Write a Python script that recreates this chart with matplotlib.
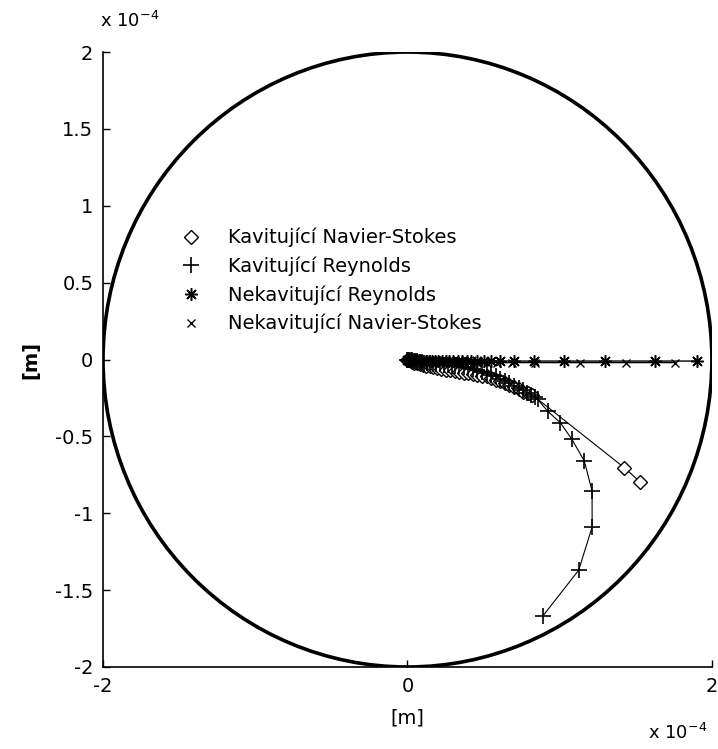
import numpy as np
import matplotlib.pyplot as plt
from matplotlib.patches import Circle

plt.rcParams['font.family'] = ['DejaVu Sans']

# Poloměr ložiska (v jednotkách 1e-4 m)
r_loziska = 2.0

# Kavitující Navier-Stokes (kosočtverce)
kav_ns_x = [0.0, 0.005, 0.01, 0.02, 0.03, 0.045, 0.06, 0.08, 0.10, 0.12,
            0.145, 0.17, 0.195, 0.22, 0.25, 0.28, 0.31, 0.34, 0.37, 0.40,
            0.43, 0.46, 0.49, 0.52, 0.55, 0.58, 0.61, 0.64, 0.67, 0.70,
            0.73, 0.76, 0.79, 0.82, 1.425, 1.53]
kav_ns_y = [0.0, -0.003, -0.006, -0.01, -0.015, -0.02, -0.025, -0.03, -0.035, -0.04,
            -0.045, -0.05, -0.055, -0.06, -0.065, -0.07, -0.075, -0.08, -0.085, -0.09,
            -0.095, -0.10, -0.105, -0.11, -0.12, -0.13, -0.14, -0.15, -0.165, -0.18,
            -0.195, -0.21, -0.22, -0.23, -0.704, -0.798]

# Kavitující Reynolds (plus)
kav_re_x = [0.0, 0.005, 0.01, 0.02, 0.03, 0.04, 0.05, 0.065, 0.08, 0.095,
            0.11, 0.13, 0.15, 0.17, 0.19, 0.215, 0.24, 0.265, 0.29, 0.315,
            0.34, 0.37, 0.40, 0.43, 0.46, 0.49, 0.52, 0.55, 0.58, 0.61,
            0.64, 0.67, 0.70, 0.73, 0.76, 0.785, 0.81, 0.835, 0.856,
            0.921, 1.005, 1.081, 1.162, 1.213, 1.213, 1.125, 0.889]
kav_re_y = [0.0, 0.0, 0.0, -0.003, -0.005, -0.007, -0.01, -0.012, -0.015, -0.017,
            -0.02, -0.022, -0.025, -0.027, -0.03, -0.032, -0.035, -0.037, -0.04, -0.042,
            -0.045, -0.05, -0.055, -0.062, -0.07, -0.08, -0.09, -0.10, -0.11, -0.125,
            -0.14, -0.155, -0.17, -0.185, -0.20, -0.215, -0.23, -0.245, -0.26,
            -0.336, -0.412, -0.520, -0.661, -0.856, -1.090, -1.370, -1.669]

# Nekavitující Reynolds (hvězdičky)
nekav_re_x = [0.0, 0.005, 0.01, 0.015, 0.02, 0.03, 0.04, 0.05, 0.06, 0.075,
              0.09, 0.105, 0.12, 0.14, 0.16, 0.18, 0.20, 0.225, 0.25, 0.275,
              0.30, 0.33, 0.36, 0.39, 0.42, 0.46, 0.50, 0.55, 0.61, 0.703,
              0.829, 1.031, 1.300, 1.628, 1.900]
nekav_re_y = [0.0, 0.0, 0.0, 0.0, 0.0, -0.005, -0.005, -0.005, -0.005, -0.005,
              -0.01, -0.01, -0.01, -0.01, -0.01, -0.01, -0.01, -0.01, -0.01, -0.01,
              -0.01, -0.01, -0.01, -0.01, -0.01, -0.01, -0.01, -0.01, -0.01, -0.01,
              -0.01, -0.01, -0.01, -0.01, -0.01]

# Nekavitující Navier-Stokes (křížky)
nekav_ns_x = [0.0, 0.005, 0.01, 0.02, 0.03, 0.04, 0.055, 0.07, 0.085, 0.10,
              0.12, 0.14, 0.165, 0.19, 0.22, 0.25, 0.285, 0.32, 0.36, 0.41,
              0.46, 0.52, 0.59, 0.69, 0.84, 1.136, 1.436, 1.758]
nekav_ns_y = [0.0, 0.0, 0.0, -0.005, -0.005, -0.005, -0.01, -0.01, -0.01, -0.01,
              -0.01, -0.01, -0.015, -0.015, -0.015, -0.015, -0.015, -0.015, -0.015, -0.015,
              -0.02, -0.02, -0.02, -0.02, -0.02, -0.02, -0.02, -0.02]

y_ticks = [-2, -1.5, -1, -0.5, 0, 0.5, 1, 1.5, 2]
y_labels = ['-2', '-1.5', '-1', '-0.5', '0', '0.5', '1', '1.5', '2']
x_ticks = [-2, 0, 2]
x_labels = ['-2', '0', '2']

fs = 14

fig = plt.figure(figsize=(7.18, 7.49), dpi=100)
ax = fig.add_axes([0.1435, 0.1095, 0.848, 0.821])

ax.add_patch(Circle((0, 0), r_loziska, fill=False, ec='black', lw=2.6))

ax.plot(kav_ns_x, kav_ns_y, color='black', lw=0.8, marker='D', ms=7,
        mfc='white', mec='black', mew=1.0, label='Kavitující Navier-Stokes')
ax.plot(kav_re_x, kav_re_y, color='black', lw=0.8, marker='+', ms=11,
        mew=1.2, label='Kavitující Reynolds')
ax.plot(nekav_re_x, nekav_re_y, color='black', lw=1.0, marker=(8, 2, 0), ms=9,
        mew=1.1, label='Nekavitující Reynolds')
ax.plot(nekav_ns_x, nekav_ns_y, color='black', lw=1.0, marker='x', ms=6,
        mew=1.0, label='Nekavitující Navier-Stokes')

ax.set_xlim(-2, 2)
ax.set_ylim(-2, 2)
ax.set_xticks(x_ticks)
ax.set_xticklabels(x_labels)
ax.set_yticks(y_ticks)
ax.set_yticklabels(y_labels)
ax.tick_params(direction='in', length=5, width=1, labelsize=fs, pad=7)
ax.spines['top'].set_visible(False)
ax.spines['right'].set_visible(False)
ax.spines['left'].set_linewidth(1.2)
ax.spines['bottom'].set_linewidth(1.2)

ax.set_xlabel('[m]', fontsize=fs)
ax.set_ylabel('[m]', fontsize=fs, fontweight='bold')
ax.xaxis.set_label_coords(0.5, -0.067)
ax.yaxis.set_label_coords(-0.103, 0.5)

fig.text(0.139, 0.972, r'x 10$^{-4}$', fontsize=13, ha='left', va='center')
fig.text(0.903, 0.022, r'x 10$^{-4}$', fontsize=13, ha='left', va='center')

ax.legend(loc='upper left', bbox_to_anchor=(0.255, 0.706), bbox_transform=fig.transFigure,
          frameon=False, fontsize=fs, handlelength=0, handletextpad=1.9,
          labelspacing=0.47, numpoints=1, borderaxespad=0)

fig.savefig('out.png', dpi=100)
